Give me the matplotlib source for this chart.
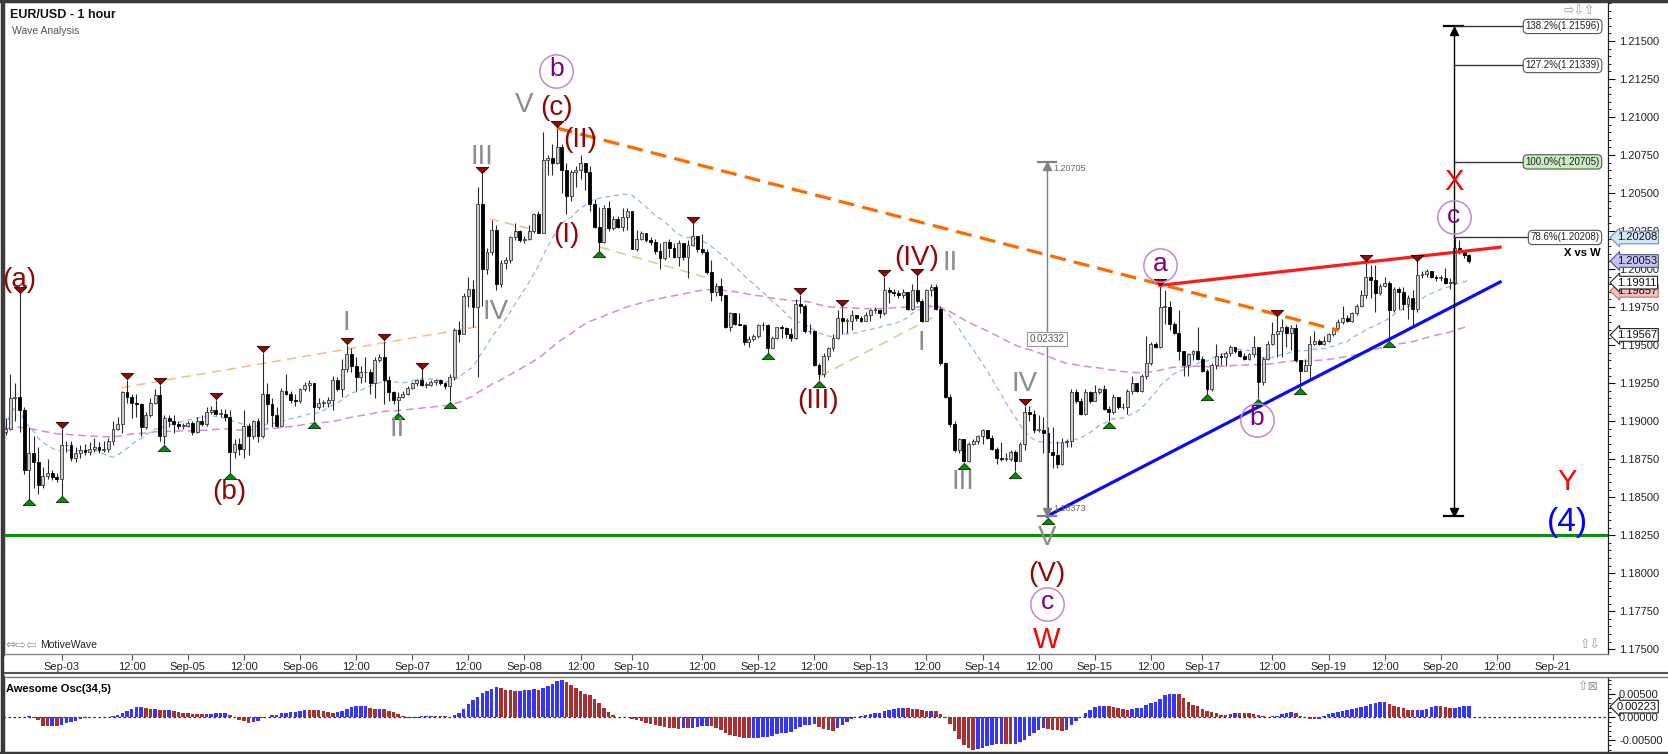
import numpy as np
import pandas as pd
import matplotlib
matplotlib.use("Agg")
import matplotlib.pyplot as plt
from matplotlib.lines import Line2D

plt.rcParams['font.family'] = ['Liberation Sans', 'DejaVu Sans']

# ---------------- DATA (EUR/USD 1 hour, prices stored as pips above 1.1800) ----------------
BASE = 1.1800
first_open = 93
close_pips = [95,115,116,107,68,79,73,58,64,66,
 63,62,84,84,76,79,81,80,82,83,
 81,82,87,95,98,119,116,112,111,96,
 104,112,117,90,102,100,98,97,97,99,
 93,100,98,106,107,105,105,103,80,85,
 82,97,90,100,90,118,111,104,97,120,
 118,114,113,121,124,125,109,112,112,114,
 127,121,134,144,136,129,132,132,125,140,
 142,127,119,114,116,118,122,125,127,124,
 124,126,127,125,123,129,160,157,182,187,
 175,243,200,211,226,190,204,206,221,225,
 219,220,225,236,224,272,273,270,280,265,
 248,264,265,270,264,243,228,218,240,227,
 233,228,234,238,213,220,224,219,218,212,
 207,218,214,208,217,208,216,222,213,211,
 198,185,189,183,162,171,164,163,152,154,
 156,163,163,148,155,162,161,157,155,177,
 176,159,159,137,131,143,148,155,168,166,
 166,170,168,166,170,173,173,171,186,185,
 184,183,185,174,186,179,166,186,188,174,
 138,116,98,81,88,74,85,87,90,94,
 89,82,76,75,75,80,74,85,106,105,
 94,94,92,80,78,72,86,87,119,113,
 105,119,113,119,121,108,106,116,109,109,
 120,125,120,130,138,151,149,175,175,164,
 158,146,137,144,146,141,133,121,137,143,
 142,145,149,146,143,141,144,149,126,141,
 151,157,159,162,158,161,140,133,137,151,
 153,151,153,157,161,165,168,166,171,176,
 183,195,193,184,189,191,173,187,185,177,
 181,174,196,197,199,195,194,194,191,191,
 214,211,209,205]
high_pips = [102,131,125,184,109,96,90,83,70,75,
 68,66,95,87,87,83,84,85,86,89,
 86,87,89,100,103,120,127,118,118,112,
 106,115,121,124,104,104,104,100,99,100,
 100,103,104,109,110,114,108,108,107,88,
 89,107,99,101,102,145,125,115,109,122,
 131,120,118,122,126,127,125,115,114,116,
 130,129,141,150,148,142,136,142,134,142,
 144,153,130,120,119,120,123,126,128,134,
 126,127,128,128,126,131,161,166,184,195,
 193,254,263,214,232,229,206,208,222,230,
 226,222,229,237,238,290,275,282,293,282,
 270,265,268,275,270,268,246,241,242,245,
 235,235,240,240,238,226,225,224,221,220,
 217,218,220,217,219,217,219,230,222,223,
 213,206,191,194,183,172,171,171,164,156,
 157,164,165,164,156,162,163,162,161,180,
 183,177,164,160,138,145,149,157,173,175,
 168,173,170,169,172,174,175,174,195,188,
 187,186,187,185,190,196,180,187,190,190,
 176,139,118,100,89,88,86,88,91,95,
 94,91,83,86,79,81,81,86,110,110,
 107,104,103,96,96,87,89,88,121,121,
 115,121,120,124,122,124,110,118,116,112,
 121,130,125,131,156,152,152,189,186,179,
 165,173,146,145,147,162,143,134,138,151,
 145,146,150,149,147,145,145,156,149,142,
 153,165,169,167,163,163,164,140,141,156,
 159,154,156,158,162,167,176,170,172,177,
 186,205,203,203,190,195,192,188,188,188,
 183,186,205,199,200,199,196,196,201,194,
 221,219,212,210]
low_pips = [91,94,100,93,65,49,56,52,56,62,
 61,60,51,80,74,73,76,78,78,80,
 79,80,80,84,94,92,112,102,103,90,
 95,103,111,87,85,96,92,95,95,96,
 91,92,97,97,105,104,103,100,66,76,
 78,76,78,88,86,89,99,96,96,96,
 117,112,110,112,120,120,100,108,109,109,
 107,120,116,132,132,120,125,126,118,115,
 139,111,113,111,106,115,117,121,123,123,
 122,123,124,124,121,113,127,152,157,175,
 162,129,176,197,209,186,188,200,204,219,
 218,217,219,224,224,224,262,262,269,250,
 236,245,254,259,252,238,227,212,217,225,
 226,227,225,226,213,212,219,218,216,210,
 200,206,208,207,202,206,194,215,211,210,
 197,179,182,179,161,159,163,163,150,149,
 153,155,160,145,148,154,155,155,153,154,
 171,158,157,136,127,129,140,146,154,157,
 158,160,166,165,166,166,171,168,170,178,
 182,181,181,173,173,178,165,166,182,173,
 137,115,96,80,79,73,73,84,85,85,
 88,81,72,74,74,74,67,74,81,100,
 92,93,79,37,69,69,71,83,83,112,
 104,104,112,113,118,107,100,105,108,108,
 105,118,119,119,128,137,148,148,164,160,
 157,140,130,130,140,140,132,118,120,134,
 137,136,143,145,142,140,140,142,115,124,
 140,150,142,142,149,147,139,122,133,127,
 150,150,150,152,156,160,164,165,165,170,
 175,181,181,172,183,188,153,172,174,173,
 167,162,172,194,195,194,192,192,190,187,
 190,210,207,204]

swing_high_bars = [3,12,26,33,45,55,73,81,89,102,118,147,170,179,188,195,218,247,272,291,302]
swing_low_bars = [5,12,34,48,66,84,95,127,163,174,205,216,223,236,257,268,277,296]

date_tick_bars = [12,27,39,51,63,75,87,99,111,123,134,149,161,173,185,197,209,221,233,245,256,271,283,295,307,319,331]
date_tick_labels = ['Sep-03','12:00','Sep-05','12:00','Sep-06','12:00','Sep-07','12:00','Sep-08','12:00',
                    'Sep-10','12:00','Sep-12','12:00','Sep-13','12:00','Sep-14','12:00','Sep-15','12:00',
                    'Sep-17','12:00','Sep-19','12:00','Sep-20','12:00','Sep-21']
price_ticks = [1.175,1.1775,1.18,1.1825,1.185,1.1875,1.19,1.1925,1.195,1.1975,1.2,1.2025,1.205,1.2075,1.21,1.2125,1.215]
price_tick_labels = ['1.17500','1.17750','1.18000','1.18250','1.18500','1.18750','1.19000','1.19250','1.19500',
                     '1.19750','1.20000','1.20250','1.20500','1.20750','1.21000','1.21250','1.21500']
ao_ticks = [-0.005, 0.0, 0.005]
ao_tick_labels = ['-0.00500', '0.00000', '0.00500']

# analyst drawings (bar index, price)
support_level = 1.1825
resistance_dashed = [(117.9, 1.20928), (285.1, 1.19597)]
red_trend = [(246.9, 1.19893), (319.7, 1.20144)]
blue_trend = [(222.8, 1.18375), (319.7, 1.19915)]
light_orange_lines = [[(24.8, 1.19220), (100.8, 1.19620)], [(103.6, 1.20330), (112.2, 1.20265)]]
khaki_lines = [[(127.2, 1.20144), (149.6, 1.19947)], [(174.2, 1.19295), (199.2, 1.19696)]]
measure_bar, measure_low, measure_high, measure_text = 222.8, 1.18373, 1.20705, '0.02332'
fib_bar, fib_base = 309.8, 1.18373
fib_levels = [('138.2%(1.21596)', 1.21596, 'white'), ('127.2%(1.21339)', 1.21339, 'white'),
              ('100.0%(1.20705)', 1.20705, '#c8efc0'), ('78.6%(1.20208)', 1.20208, 'white')]

paren_labels = [('(a)', 2.9, 1.19926), ('(b)', 47.8, 1.18533), ('(c)', 117.8, 1.21062), ('(II)', 122.9, 1.20852),
                ('(I)', 119.9, 1.20221), ('(III)', 173.8, 1.19131), ('(IV)', 195.0, 1.20070), ('(V)', 222.8, 1.17994)]
gray_labels = [('I', 72.8, 1.19643), ('II', 83.7, 1.18947), ('III', 101.9, 1.20740), ('IV', 104.9, 1.19716),
               ('V', 110.9, 1.21076), ('II', 202.0, 1.20037), ('I', 195.8, 1.19512), ('III', 204.8, 1.18599),
               ('IV', 217.9, 1.19242), ('V', 222.8, 1.18231)]
circled_labels = [('b', 117.8, 1.21306), ('a', 246.96, 1.20024), ('c', 309.8, 1.20340), ('b', 267.7, 1.19006),
                  ('c', 222.8, 1.17797)]
red_labels = [('X', 309.8, 1.20576), ('W', 222.6, 1.17560), ('Y', 334.0, 1.18599)]
blue_labels = [('(4)', 334.2, 1.18336)]
axis_boxes = [('1.19857', 1.19857, '#f4c0c0', '#c07070'), ('1.20208', 1.20208, '#d2e6f6', '#6f8fb0'),
              ('1.20053', 1.20053, '#c4c4f0', '#505090'), ('1.19911', 1.19911, 'white', '#202020'),
              ('1.19567', 1.19567, 'white', '#202020')]
ao_box = ('0.00223', 0.00223)

# ---------------- derived series ----------------
n = min(len(close_pips), len(high_pips), len(low_pips))
c = BASE + np.array(close_pips[:n]) / 1e4
h = BASE + np.array(high_pips[:n]) / 1e4
l = BASE + np.array(low_pips[:n]) / 1e4
o = np.concatenate([[BASE + first_open / 1e4], c[:-1]])
x = np.arange(n)
ma_fast = pd.Series(c).rolling(20, min_periods=1).mean().values
ma_slow = pd.Series(c).ewm(span=100, adjust=False).mean().values
median = pd.Series((h + l) / 2)
ao = (median.rolling(5, min_periods=1).mean() - median.rolling(34, min_periods=1).mean()).values
ao_col = np.where(np.diff(ao, prepend=ao[0]) >= 0, '#3535ff', '#a83030')

# ---------------- layout ----------------
W, H = 1668, 754
BAR_PX, X0_PX = 4.675, 5.5
PX0, PX1 = 3, 1608
def rect(x0, y0, x1, y1):
    return [x0 / W, 1 - y1 / H, (x1 - x0) / W, (y1 - y0) / H]

fig = plt.figure(figsize=(W / 100, H / 100), dpi=100, facecolor='white')
ax = fig.add_axes(rect(PX0, 3, PX1, 654))
xlim = ((PX0 - X0_PX) / BAR_PX, (PX1 - X0_PX) / BAR_PX)
ax.set_xlim(*xlim)
ax.set_ylim(1.215 - (654 - 40.4) / 15220, 1.215 + (40.4 - 3) / 15220)

# moving averages
ax.plot(x, ma_fast, color='#93b0ff', lw=0.9, dashes=(4, 3), zorder=2)
ax.plot(x, ma_slow, color='#cf8fd6', lw=1.1, dashes=(5, 3), zorder=2)
for seg in light_orange_lines:
    ax.plot([p[0] for p in seg], [p[1] for p in seg], color='#ffb68a', lw=1.1, dashes=(6, 4), zorder=2.5)
for seg in khaki_lines:
    ax.plot([p[0] for p in seg], [p[1] for p in seg], color='#d6cf9c', lw=1.2, dashes=(6, 4), zorder=2.5)

# candles
up = c >= o
bb = np.minimum(o, c)
bh = np.maximum(np.abs(c - o), 0.00005)
ax.vlines(x, l, h, color='#2a2a2a', lw=0.8, zorder=3)
ax.bar(x[up], bh[up], bottom=bb[up], width=0.62, color='#cccccc', edgecolor='#3a3a3a', lw=0.6, zorder=4)
ax.bar(x[~up], bh[~up], bottom=bb[~up], width=0.62, color='black', edgecolor='black', lw=0.6, zorder=4)

# swing markers
tri_dn = [(-1, 0.5), (1, 0.5), (0, -0.5), (-1, 0.5)]
tri_up = [(-1, -0.5), (1, -0.5), (0, 0.5), (-1, -0.5)]
sh = np.array(swing_high_bars)
sl = np.array(swing_low_bars)
ax.plot(sh, h[sh] + 0.00024, ls='none', marker=tri_dn, ms=9, mfc='#8b0a0a', mec='#300000', mew=0.6, zorder=6)
ax.plot(sl, l[sl] - 0.00024, ls='none', marker=tri_up, ms=9, mfc='#0d8a0d', mec='#003000', mew=0.6, zorder=6)

# analyst lines
ax.axhline(support_level, color='#138a13', lw=2.3, zorder=5)
ax.plot(*zip(*resistance_dashed), color='#ff6a00', lw=2.3, dashes=(5, 2.6), zorder=5)
ax.plot(*zip(*red_trend), color='#ff1a1a', lw=2.3, zorder=5)
ax.plot(*zip(*blue_trend), color='#0a0aff', lw=2.3, zorder=5)

# gray measuring tool
gc = '#808080'
ax.vlines(measure_bar, measure_low, measure_high, color=gc, lw=1, zorder=5)
ax.plot([measure_bar - 2, measure_bar + 2], [measure_high] * 2, color=gc, lw=1.6, zorder=5)
ax.plot([measure_bar - 2, measure_bar + 2], [measure_low] * 2, color=gc, lw=1.6, zorder=5)
ax.plot(measure_bar, measure_high - 0.00030, marker='^', ms=6, color=gc, zorder=5)
ax.plot(measure_bar, measure_low + 0.00030, marker='v', ms=6, color=gc, zorder=5)
ax.text(measure_bar + 1.4, measure_high - 0.00045, '%.5f' % measure_high, fontsize=6.5, color='#666', va='center', zorder=5)
ax.text(measure_bar + 1.4, measure_low + 0.00052, '%.5f' % measure_low, fontsize=6.5, color='#666', va='center', zorder=5)
ax.text(measure_bar, 1.19540, measure_text, fontsize=7, color='#555', ha='center', va='center', zorder=6,
        bbox=dict(boxstyle='square,pad=0.25', fc='white', ec='#999', lw=0.8))

# black fib tool
fib_top = fib_levels[0][1]
ax.vlines(fib_bar, fib_base, fib_top, color='black', lw=1, zorder=5)
ax.plot([fib_bar - 2, fib_bar + 2], [fib_top] * 2, color='black', lw=1.6, zorder=5)
ax.plot([fib_bar - 2, fib_bar + 2], [fib_base] * 2, color='black', lw=1.6, zorder=5)
ax.plot(fib_bar, fib_top - 0.00030, marker='^', ms=6, color='black', zorder=5)
ax.plot(fib_bar, fib_base + 0.00030, marker='v', ms=6, color='black', zorder=5)
for i, (txt, lvl, fc) in enumerate(fib_levels):
    xend = 325.7 if i == 3 else 324.6
    ax.plot([fib_bar, xend], [lvl, lvl], color='#333', lw=1, zorder=5)
    ax.text(xend + 0.5, lvl, txt, fontsize=7, ha='left', va='center', color='#222', zorder=7,
            bbox=dict(boxstyle='round,pad=0.22,rounding_size=0.45', fc=fc, ec='#555', lw=0.8))

# wave labels
for t, bx, py in paren_labels:
    ax.text(bx, py, t, fontsize=20, color='#8b0a0a', ha='center', va='center', zorder=7)
for t, bx, py in gray_labels:
    ax.text(bx, py, t, fontsize=20, color='#8c8c8c', ha='center', va='center', zorder=7)
for t, bx, py in circled_labels:
    ax.plot(bx, py, 'o', ms=24, mfc='none', mec='#c586d0', mew=1.1, zorder=7)
    ax.text(bx, py + 0.00012, t, fontsize=19, color='#800080', ha='center', va='center', zorder=7)
for t, bx, py in red_labels:
    ax.text(bx, py, t, fontsize=21, color='#ff0000', ha='center', va='center', zorder=7)
for t, bx, py in blue_labels:
    ax.text(bx, py, t, fontsize=24, color='#0000ff', ha='center', va='center', zorder=7)
ax.text(337.2, 1.20103, 'X vs W', fontsize=8, fontweight='bold', ha='center', va='center', zorder=7)

# axes styling
ax.set_xticks(date_tick_bars)
ax.set_xticklabels(date_tick_labels, fontsize=8, color='#222')
ax.tick_params(axis='x', direction='out', length=4, width=0.8, color='#555', pad=2)
ax.yaxis.tick_right()
ax.set_yticks(price_ticks)
ax.set_yticklabels(price_tick_labels, fontsize=8, color='#222')
ax.set_yticks(np.arange(1.1750, 1.21751, 0.0005), minor=True)
ax.tick_params(axis='y', which='major', direction='out', length=5, width=0.8, pad=3)
ax.tick_params(axis='y', which='minor', direction='out', length=2.5, width=0.6)
ax.spines['top'].set_visible(False)
ax.spines['left'].set_color('#3c3c3c'); ax.spines['left'].set_linewidth(2.5)
ax.spines['right'].set_color('#222'); ax.spines['right'].set_linewidth(0.9)
ax.spines['bottom'].set_color('#888'); ax.spines['bottom'].set_linewidth(1)

for t, py, fc, ec in axis_boxes:
    ax.text(1.0055, py, t, transform=ax.get_yaxis_transform(), fontsize=8, ha='left', va='center',
            color='#111', clip_on=False, zorder=20,
            bbox=dict(boxstyle='larrow,pad=0.12', fc=fc, ec=ec, lw=0.8))

# ---------------- Awesome oscillator panel ----------------
ax2 = fig.add_axes(rect(PX0, 677, PX1, 751))
ax2.set_xlim(*xlim)
ax2.set_ylim(-(751 - 717) / 23.3 * 0.005, (717 - 677) / 23.3 * 0.005)
ax2.bar(x, ao, width=0.75, color=ao_col, lw=0, zorder=3)
ax2.axhline(0, color='#333', lw=0.9, dashes=(2, 2), zorder=2)
ax2.set_xticks([])
ax2.yaxis.tick_right()
ax2.set_yticks(ao_ticks)
ax2.set_yticklabels(ao_tick_labels, fontsize=8, color='#222')
ax2.set_yticks(np.arange(-0.007, 0.0086, 0.001), minor=True)
ax2.tick_params(axis='y', which='major', direction='out', length=5, width=0.8, pad=3)
ax2.tick_params(axis='y', which='minor', direction='out', length=2.5, width=0.6)
for s in ['top', 'bottom']:
    ax2.spines[s].set_visible(False)
ax2.spines['left'].set_color('#3c3c3c'); ax2.spines['left'].set_linewidth(2.5)
ax2.spines['right'].set_color('#222'); ax2.spines['right'].set_linewidth(0.9)
ax2.text(0.002, 0.84, 'Awesome Osc(34,5)', transform=ax2.transAxes, fontsize=8, fontweight='bold', va='center')
ax2.text(1.0055, ao_box[1], ao_box[0], transform=ax2.get_yaxis_transform(), fontsize=8, ha='left', va='center',
         color='#111', clip_on=False, zorder=20, bbox=dict(boxstyle='larrow,pad=0.12', fc='white', ec='#202020', lw=0.8))

# ---------------- figure decorations ----------------
fig.text(10 / W, 1 - 14.5 / H, 'EUR/USD - 1 hour', fontsize=9, fontweight='bold', va='center', ha='left', color='#111')
fig.text(12 / W, 1 - 31 / H, 'Wave Analysis', fontsize=7.5, va='center', ha='left', color='#555')
fig.text(1564 / W, 1 - 11 / H, '⇨⇩⇧', fontsize=9, va='center', ha='left', color='#999', family='DejaVu Sans')
fig.text(1580 / W, 1 - 645 / H, '⇧⇩', fontsize=9, va='center', ha='left', color='#999', family='DejaVu Sans')
fig.text(1578 / W, 1 - 687 / H, '⇧⊠', fontsize=9, va='center', ha='left', color='#999', family='DejaVu Sans')
fig.text(5 / W, 1 - 645 / H, '⇔⇨⇦', fontsize=9, va='center', ha='left', color='#999', family='DejaVu Sans')
fig.text(40 / W, 1 - 645 / H, 'MotiveWave', fontsize=7.5, va='center', ha='left', color='#222')

def hline(ypx, lw, col, x0=0.0, x1=1.0):
    fig.add_artist(Line2D([x0, x1], [1 - ypx / H] * 2, color=col, lw=lw))
hline(1.0, 2.5, '#3a3a3a')
hline(673, 1.5, '#555', PX0 / W, 1.0)
hline(676.5, 1.0, '#777', PX0 / W, 1.0)
hline(752.5, 2.5, '#3a3a3a')
fig.add_artist(Line2D([1.5 / W] * 2, [0, 1], color='#3a3a3a', lw=2.5))

fig.savefig('out.png', dpi=100, facecolor='white')
